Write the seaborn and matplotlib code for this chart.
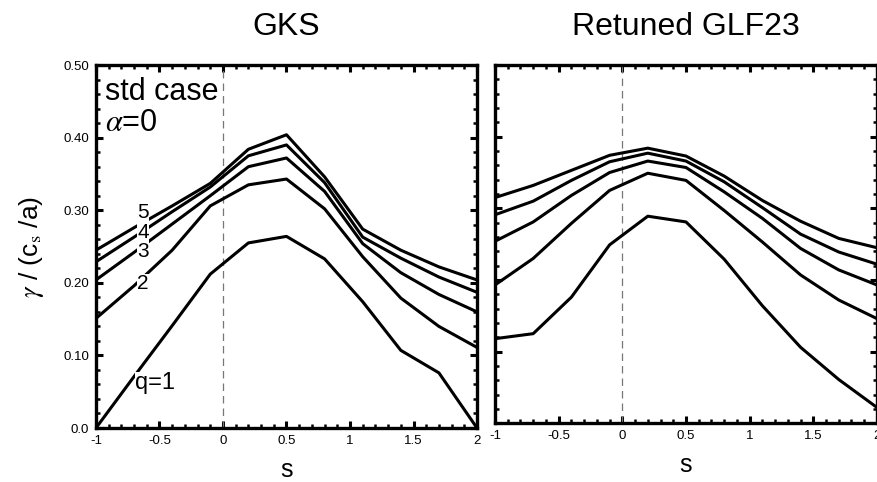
import matplotlib
matplotlib.use('Agg')
import matplotlib.pyplot as plt
from matplotlib.ticker import MultipleLocator, FixedLocator, FixedFormatter
import seaborn as sns
import numpy as np
import pandas as pd

s_vals = [-1.0, -0.7, -0.4, -0.1, 0.2, 0.5, 0.8, 1.1, 1.4, 1.7, 2.0]
q_vals = [1, 2, 3, 4, 5]

# GKS growth rates, one list per q
gks_q1 = [0.000, 0.071, 0.141, 0.212, 0.255, 0.264, 0.233, 0.174, 0.107, 0.076, 0.000]
gks_q2 = [0.151, 0.196, 0.245, 0.306, 0.335, 0.343, 0.302, 0.236, 0.179, 0.140, 0.111]
gks_q3 = [0.204, 0.242, 0.281, 0.320, 0.360, 0.372, 0.326, 0.254, 0.214, 0.184, 0.160]
gks_q4 = [0.229, 0.263, 0.298, 0.332, 0.375, 0.390, 0.338, 0.263, 0.234, 0.208, 0.187]
gks_q5 = [0.245, 0.276, 0.306, 0.337, 0.384, 0.404, 0.346, 0.274, 0.245, 0.222, 0.204]

# retuned GLF23 growth rates
glf_q1 = [0.118, 0.125, 0.176, 0.249, 0.289, 0.281, 0.229, 0.164, 0.106, 0.061, 0.022]
glf_q2 = [0.193, 0.230, 0.279, 0.325, 0.349, 0.339, 0.297, 0.253, 0.207, 0.172, 0.146]
glf_q3 = [0.254, 0.281, 0.318, 0.350, 0.366, 0.357, 0.323, 0.286, 0.244, 0.214, 0.193]
glf_q4 = [0.291, 0.310, 0.339, 0.365, 0.377, 0.366, 0.337, 0.301, 0.264, 0.239, 0.222]
glf_q5 = [0.315, 0.332, 0.353, 0.374, 0.384, 0.373, 0.345, 0.311, 0.282, 0.258, 0.245]

x_ticks = [-1, -0.5, 0, 0.5, 1, 1.5, 2]
x_tick_labels = ['-1', '-0.5', '0', '0.5', '1', '1.5', '2']
y_ticks = [0.0, 0.1, 0.2, 0.3, 0.4, 0.5]
y_tick_labels = ['0.0', '0.10', '0.20', '0.30', '0.40', '0.50']


def long_form(series):
    rows = []
    for q, vals in zip(q_vals, series):
        for s, g in zip(s_vals, vals):
            rows.append({'s': s, 'gamma': g, 'q': q})
    return pd.DataFrame(rows)


gks = long_form([gks_q1, gks_q2, gks_q3, gks_q4, gks_q5])
glf = long_form([glf_q1, glf_q2, glf_q3, glf_q4, glf_q5])

sns.set_style('white')
plt.rcParams['font.family'] = ['Liberation Sans', 'DejaVu Sans']
plt.rcParams['mathtext.fontset'] = 'stix'
plt.rcParams['text.color'] = 'black'
plt.rcParams['axes.labelcolor'] = 'black'
plt.rcParams['xtick.color'] = 'black'
plt.rcParams['ytick.color'] = 'black'

fig = plt.figure(figsize=(8.78, 4.82), dpi=100)
ax1 = fig.add_axes([0.1093, 0.112, 0.434, 0.753])
ax2 = fig.add_axes([0.5638, 0.122, 0.435, 0.743])


def style_axes(ax, show_ylabels):
    ax.set_xlim(-1, 2)
    ax.set_ylim(0, 0.5)
    ax.axvline(0, color='#777777', lw=0.9, ls=(0, (6, 4)), zorder=1)
    ax.xaxis.set_major_locator(FixedLocator(x_ticks))
    ax.xaxis.set_major_formatter(FixedFormatter(x_tick_labels))
    ax.xaxis.set_minor_locator(MultipleLocator(0.1))
    ax.yaxis.set_major_locator(FixedLocator(y_ticks))
    ax.yaxis.set_minor_locator(MultipleLocator(0.02))
    if show_ylabels:
        ax.yaxis.set_major_formatter(FixedFormatter(y_tick_labels))
    else:
        ax.set_yticklabels([])
        ax.set_ylabel('')
    ax.tick_params(which='both', direction='in', top=True, right=True,
                   bottom=True, left=True, color='black')
    ax.tick_params(which='major', length=5, width=2.2, labelsize=9.5, pad=5)
    ax.tick_params(which='minor', length=3, width=1.8)
    for sp in ax.spines.values():
        sp.set_linewidth(2.4)
        sp.set_color('black')
    ax.set_xlabel('s', fontsize=18, labelpad=8)


sns.lineplot(data=gks, x='s', y='gamma', units='q', estimator=None,
             color='black', lw=2.2, ax=ax1, zorder=3)
sns.lineplot(data=glf, x='s', y='gamma', units='q', estimator=None,
             color='black', lw=2.2, ax=ax2, zorder=3)

style_axes(ax1, True)
style_axes(ax2, False)

ax1.set_ylabel(r'$\gamma$ / (c$_{\rm s}$ /a)', fontsize=19, labelpad=12)
ax1.set_title('GKS', fontsize=23, pad=22)
ax2.set_title('Retuned GLF23', fontsize=23, pad=22)

ax1.text(-0.93, 0.463, 'std case', fontsize=22, va='center', ha='left')
ax1.text(-0.93, 0.420, r'$\alpha$=0', fontsize=22, va='center', ha='left')

box = dict(facecolor='white', edgecolor='none', pad=0.2)
ax1.text(-0.63, 0.297, '5', fontsize=15, ha='center', va='center', bbox=box, zorder=5)
ax1.text(-0.63, 0.270, '4', fontsize=15, ha='center', va='center', bbox=box, zorder=5)
ax1.text(-0.63, 0.243, '3', fontsize=15, ha='center', va='center', bbox=box, zorder=5)
ax1.text(-0.63, 0.199, '2', fontsize=15, ha='center', va='center', bbox=box, zorder=5)
ax1.text(-0.535, 0.062, 'q=1', fontsize=17, ha='center', va='center', bbox=box, zorder=5)

fig.savefig('out.png', dpi=100)
